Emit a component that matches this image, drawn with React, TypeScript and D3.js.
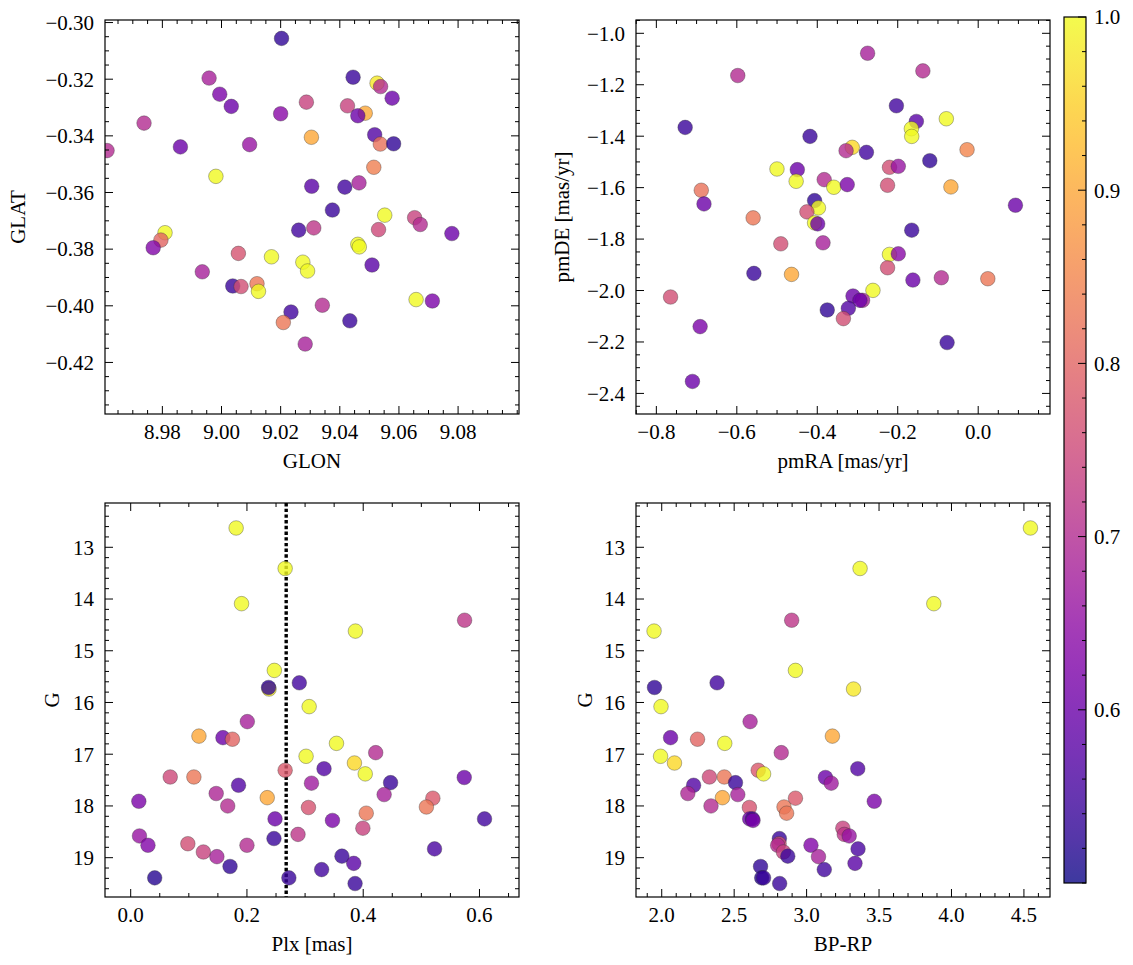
import React from "react";
import * as d3 from "d3";

const W = 1133;
const H = 965;

// ---------- Data ----------
// Sky positions
const glon = [9.0203, 8.9958, 9.0445, 9.0526, 9.0538, 8.9994, 9.0577, 9.0033, 9.0287, 9.0426, 9.0486, 9.0461, 8.9738, 9.02, 9.0304, 9.0518, 9.0537, 9.0582, 8.9861, 9.0095, 8.9613, 8.9981, 9.0515, 9.0305, 9.0417, 9.0465, 9.0375, 9.0552, 9.0653, 9.0672, 9.0261, 9.0312, 9.0531, 9.0779, 8.9809, 8.9795, 8.9769, 9.0461, 9.0466, 9.0057, 9.0169, 9.0275, 9.0291, 8.9935, 9.0509, 9.0038, 9.0066, 9.012, 9.0125, 9.0235, 9.0341, 9.0209, 9.0434, 9.0283, 9.0658, 9.0713];
const glat = [-0.3056, -0.3196, -0.3193, -0.3214, -0.3226, -0.3253, -0.3267, -0.3296, -0.3281, -0.3294, -0.332, -0.3329, -0.3355, -0.3322, -0.3405, -0.3396, -0.3429, -0.3428, -0.3439, -0.3431, -0.3452, -0.3543, -0.3511, -0.3578, -0.3581, -0.3566, -0.3662, -0.368, -0.3689, -0.3713, -0.3733, -0.3725, -0.3731, -0.3745, -0.3742, -0.3768, -0.3795, -0.3783, -0.3792, -0.3815, -0.3827, -0.3846, -0.3877, -0.388, -0.3856, -0.393, -0.3932, -0.3922, -0.3949, -0.4022, -0.3998, -0.4059, -0.4053, -0.4135, -0.3978, -0.3983];
const probSky = [0.53, 0.68, 0.54, 0.98, 0.7, 0.62, 0.6, 0.6, 0.74, 0.74, 0.9, 0.6, 0.7, 0.64, 0.9, 0.57, 0.82, 0.53, 0.6, 0.66, 0.7, 1.0, 0.84, 0.58, 0.55, 0.68, 0.54, 1.0, 0.74, 0.7, 0.55, 0.72, 0.75, 0.6, 1.0, 0.8, 0.63, 1.0, 1.0, 0.77, 1.0, 1.0, 1.0, 0.68, 0.58, 0.54, 0.76, 0.83, 1.0, 0.55, 0.7, 0.83, 0.54, 0.68, 1.0, 0.62];

// Proper motions
const pmra = [-0.2749, -0.5976, -0.1375, -0.2033, -0.0792, -0.1537, -0.1661, -0.1652, -0.7284, -0.4181, -0.3131, -0.3284, -0.2778, -0.0277, -0.1203, -0.2205, -0.1986, -0.5002, -0.4496, -0.4525, -0.3828, -0.3589, -0.3255, -0.2253, -0.0678, -0.6883, -0.6816, -0.4067, -0.3971, 0.0926, -0.5594, -0.4258, -0.4067, -0.399, -0.1652, -0.4907, -0.3857, -0.2205, -0.1986, -0.2253, -0.5575, -0.464, -0.1623, -0.0916, 0.0239, -0.7647, -0.2616, -0.3112, -0.2874, -0.294, -0.3227, -0.3752, -0.3351, -0.6912, -0.0773, -0.7103];
const pmde = [-1.0776, -1.1642, -1.1461, -1.2818, -1.3322, -1.3426, -1.371, -1.4008, -1.3659, -1.4008, -1.4434, -1.4564, -1.4628, -1.4525, -1.4952, -1.521, -1.5171, -1.5275, -1.5301, -1.5753, -1.5688, -1.5985, -1.5882, -1.5908, -1.5972, -1.6102, -1.6632, -1.6503, -1.6787, -1.6684, -1.7175, -1.6942, -1.7369, -1.7408, -1.7654, -1.8184, -1.8145, -1.8597, -1.8572, -1.9114, -1.9334, -1.9373, -1.9593, -1.9502, -1.9541, -2.0252, -1.9994, -2.0213, -2.0381, -2.0381, -2.0691, -2.0756, -2.1092, -2.1403, -2.2023, -2.3535];
const probPm = [0.68, 0.7, 0.7, 0.55, 1.0, 0.58, 1.0, 1.0, 0.54, 0.54, 0.96, 0.7, 0.55, 0.85, 0.53, 0.76, 0.66, 1.0, 0.6, 1.0, 0.7, 1.0, 0.62, 0.76, 0.9, 0.82, 0.6, 0.53, 1.0, 0.6, 0.83, 0.76, 1.0, 0.6, 0.54, 0.76, 0.68, 1.0, 0.64, 0.76, 0.54, 0.9, 0.6, 0.7, 0.83, 0.76, 1.0, 0.6, 0.68, 0.6, 0.57, 0.53, 0.76, 0.62, 0.54, 0.6];

// Photometry / parallax (same stars in both lower panels)
const gmag = [12.627, 13.41, 14.09, 14.41, 14.62, 15.38, 15.62, 15.74, 15.71, 16.08, 16.37, 16.65, 16.68, 16.71, 16.79, 16.97, 17.04, 17.17, 17.31, 17.28, 17.38, 17.44, 17.44, 17.45, 17.56, 17.55, 17.6, 17.76, 17.78, 17.84, 17.85, 17.91, 18.0, 18.03, 18.02, 18.14, 18.25, 18.25, 18.28, 18.43, 18.55, 18.58, 18.63, 18.73, 18.76, 18.76, 18.83, 18.89, 18.98, 18.97, 19.11, 19.17, 19.23, 19.39, 19.39, 19.5];
const plx = [0.1814, 0.2657, 0.1907, 0.5744, 0.3866, 0.2471, 0.2901, 0.238, 0.2372, 0.307, 0.2006, 0.1174, 0.1587, 0.175, 0.354, 0.4215, 0.3017, 0.3849, 0.2657, 0.3326, 0.4035, 0.068, 0.1087, 0.5738, 0.311, 0.4471, 0.1855, 0.1471, 0.436, 0.2349, 0.5198, 0.014, 0.1669, 0.3058, 0.5087, 0.4052, 0.2483, 0.6087, 0.3471, 0.3994, 0.2878, 0.0151, 0.2465, 0.0983, 0.0297, 0.2, 0.5227, 0.125, 0.1483, 0.3634, 0.3837, 0.1709, 0.3285, 0.0413, 0.2721, 0.386];
const bprp = [4.545, 3.369, 3.878, 2.897, 1.947, 2.923, 2.382, 3.324, 1.95, 1.995, 2.61, 3.178, 2.061, 2.247, 2.435, 2.825, 1.992, 2.088, 2.666, 3.353, 2.703, 2.329, 2.432, 3.13, 3.17, 2.509, 2.22, 2.18, 2.525, 2.419, 2.923, 3.467, 2.34, 2.605, 2.844, 2.862, 2.607, 2.626, 2.63, 3.25, 3.26, 3.294, 2.812, 2.81, 3.03, 2.8, 3.355, 2.84, 3.082, 2.87, 3.334, 2.682, 3.122, 2.69, 2.703, 2.814];
const probPhot = [1.0, 1.0, 1.0, 0.72, 1.0, 1.0, 0.55, 0.98, 0.53, 1.0, 0.68, 0.9, 0.6, 0.8, 1.0, 0.7, 1.0, 0.96, 0.78, 0.57, 1.0, 0.75, 0.83, 0.6, 0.67, 0.54, 0.57, 0.69, 0.68, 0.9, 0.78, 0.62, 0.7, 0.77, 0.83, 0.83, 0.6, 0.55, 0.62, 0.74, 0.72, 0.66, 0.54, 0.76, 0.63, 0.7, 0.56, 0.74, 0.68, 0.54, 0.58, 0.53, 0.55, 0.52, 0.54, 0.54];

const plxCut = 0.2675;

// Axis limits and tick labels
const glonLim = [8.9606, 9.1006];
const glatLim = [-0.4382, -0.2991];
const glonTicks = [8.98, 9.0, 9.02, 9.04, 9.06, 9.08];
const glatTicks = [-0.42, -0.4, -0.38, -0.36, -0.34, -0.32, -0.3];
const pmraLim = [-0.8506, 0.1785];
const pmdeLim = [-2.48, -0.9483];
const pmraTicks = [-0.8, -0.6, -0.4, -0.2, 0.0];
const pmdeTicks = [-2.4, -2.2, -2.0, -1.8, -1.6, -1.4, -1.2, -1.0];
const plxLim = [-0.0442, 0.668];
const plxTicks = [0.0, 0.2, 0.4, 0.6];
const gLim = [12.144, 19.76];
const gTicks = [13, 14, 15, 16, 17, 18, 19];
const bprpLim = [1.8224, 4.68];
const bprpTicks = [2.0, 2.5, 3.0, 3.5, 4.0, 4.5];
const probLim = [0.5, 1.0];
const probTicks = [0.6, 0.7, 0.8, 0.9, 1.0];

// ---------- Styling ----------
const FONT = "Liberation Serif";
const FS = 21;
const MAJ = 8;
const MIN = 4;
const R = 7.3;
const ALPHA = 0.8;

const color = d3.scaleSequential(d3.interpolatePlasma).domain(probLim as [number, number]);
const minus = (s: string) => s.replace(/-/g, "\u2212\u2009");

type AxProps = {
  id: string;
  box: [number, number, number, number];
  xLim: number[];
  yLim: number[];
  invertY?: boolean;
  xTicks: number[];
  yTicks: number[];
  xMinorStep: number;
  yMinorStep: number;
  xFmt: string;
  yFmt: string;
  xLabel: string;
  yLabel: string;
  yLabelX: number;
  xs: number[];
  ys: number[];
  cs: number[];
  vline?: number;
};

function minorTicks(lim: number[], step: number, majors: number[]) {
  const lo = Math.min(lim[0], lim[1]);
  const hi = Math.max(lim[0], lim[1]);
  const start = Math.ceil(lo / step - 1e-9) * step;
  const out: number[] = [];
  for (let v = start; v <= hi + 1e-9; v += step) {
    const vv = Math.round(v / step) * step;
    if (!majors.some((m) => Math.abs(m - vv) < step * 0.01)) out.push(vv);
  }
  return out;
}

function T(props: any) {
  return <text fontFamily={FONT} fontSize={FS} fill="#000" {...props} />;
}

function Axes(p: AxProps) {
  const [x0, y0, x1, y1] = p.box;
  const x = d3.scaleLinear().domain(p.xLim).range([x0, x1]);
  const y = d3.scaleLinear().domain(p.yLim).range(p.invertY ? [y0, y1] : [y1, y0]);
  const xMin = minorTicks(p.xLim, p.xMinorStep, p.xTicks);
  const yMin = minorTicks(p.yLim, p.yMinorStep, p.yTicks);
  const xf = d3.format(p.xFmt);
  const yf = d3.format(p.yFmt);
  const cx = (x0 + x1) / 2;
  const cy = (y0 + y1) / 2;
  return (
    <g>
      <defs>
        <clipPath id={p.id}>
          <rect x={x0} y={y0} width={x1 - x0} height={y1 - y0} />
        </clipPath>
      </defs>
      <g clipPath={`url(#${p.id})`}>
        {p.vline !== undefined && (
          <line
            x1={x(p.vline)}
            x2={x(p.vline)}
            y1={y0}
            y2={y1}
            stroke="#000"
            strokeWidth={3.4}
            strokeDasharray="3.4 2.3"
          />
        )}
        {p.xs.map((v, i) => (
          <circle
            key={i}
            cx={x(v)}
            cy={y(p.ys[i])}
            r={R}
            fill={color(p.cs[i])}
            fillOpacity={ALPHA}
            stroke="#333"
            strokeOpacity={ALPHA}
            strokeWidth={0.45}
          />
        ))}
      </g>
      <g stroke="#000" strokeWidth={1}>
        {p.xTicks.map((t) => (
          <g key={"xM" + t}>
            <line x1={x(t)} x2={x(t)} y1={y1} y2={y1 - MAJ} />
            <line x1={x(t)} x2={x(t)} y1={y0} y2={y0 + MAJ} />
          </g>
        ))}
        {xMin.map((t) => (
          <g key={"xm" + t}>
            <line x1={x(t)} x2={x(t)} y1={y1} y2={y1 - MIN} />
            <line x1={x(t)} x2={x(t)} y1={y0} y2={y0 + MIN} />
          </g>
        ))}
        {p.yTicks.map((t) => (
          <g key={"yM" + t}>
            <line x1={x0} x2={x0 + MAJ} y1={y(t)} y2={y(t)} />
            <line x1={x1} x2={x1 - MAJ} y1={y(t)} y2={y(t)} />
          </g>
        ))}
        {yMin.map((t) => (
          <g key={"ym" + t}>
            <line x1={x0} x2={x0 + MIN} y1={y(t)} y2={y(t)} />
            <line x1={x1} x2={x1 - MIN} y1={y(t)} y2={y(t)} />
          </g>
        ))}
      </g>
      <rect x={x0} y={y0} width={x1 - x0} height={y1 - y0} fill="none" stroke="#000" strokeWidth={1.2} />
      {p.xTicks.map((t) => (
        <T key={"xl" + t} x={x(t)} y={y1 + 25} textAnchor="middle">
          {minus(xf(t))}
        </T>
      ))}
      {p.yTicks.map((t) => (
        <T key={"yl" + t} x={x0 - 11} y={y(t)} dy="0.35em" textAnchor="end">
          {minus(yf(t))}
        </T>
      ))}
      <T x={cx} y={y1 + 54} textAnchor="middle">
        {p.xLabel}
      </T>
      <T transform={`translate(${p.yLabelX},${cy}) rotate(-90)`} dy="0.35em" textAnchor="middle">
        {p.yLabel}
      </T>
    </g>
  );
}

function Colorbar() {
  const bx0 = 1064;
  const bx1 = 1086;
  const by0 = 17;
  const by1 = 883;
  const y = d3.scaleLinear().domain(probLim).range([by1, by0]);
  const stops = d3.range(0, 1.0001, 0.05);
  const minors = minorTicks(probLim, 0.02, probTicks);
  return (
    <g>
      <defs>
        <linearGradient id="cbgrad" x1="0" y1="1" x2="0" y2="0">
          {stops.map((t) => (
            <stop key={t} offset={t} stopColor={d3.interpolatePlasma(t)} stopOpacity={ALPHA} />
          ))}
        </linearGradient>
      </defs>
      <rect x={bx0} y={by0} width={bx1 - bx0} height={by1 - by0} fill="url(#cbgrad)" />
      <g stroke="#000" strokeWidth={1}>
        {probTicks.map((t) => (
          <line key={"c" + t} x1={bx1} x2={bx1 - MAJ} y1={y(t)} y2={y(t)} />
        ))}
        {minors.map((t) => (
          <line key={"cm" + t} x1={bx1} x2={bx1 - MIN} y1={y(t)} y2={y(t)} />
        ))}
      </g>
      <rect x={bx0} y={by0} width={bx1 - bx0} height={by1 - by0} fill="none" stroke="#000" strokeWidth={1.2} />
      {probTicks.map((t) => (
        <T key={"cl" + t} x={bx1 + 8} y={y(t)} dy="0.35em">
          {d3.format(".1f")(t)}
        </T>
      ))}
    </g>
  );
}

export default function App() {
  const L = [105, 519];
  const Rg = [636, 1050];
  const Tp = [20, 414];
  const B = [503, 897];
  return (
    <svg
      width={W}
      height={H}
      viewBox={`0 0 ${W} ${H}`}
      style={{ position: "absolute", left: 0, top: 0, background: "#fff" }}
    >
      <rect x={0} y={0} width={W} height={H} fill="#fff" />
      <Axes
        id="c1"
        box={[L[0], Tp[0], L[1], Tp[1]]}
        xLim={glonLim}
        yLim={glatLim}
        xTicks={glonTicks}
        yTicks={glatTicks}
        xMinorStep={0.005}
        yMinorStep={0.005}
        xFmt=".2f"
        yFmt=".2f"
        xLabel="GLON"
        yLabel="GLAT"
        yLabelX={18}
        xs={glon}
        ys={glat}
        cs={probSky}
      />
      <Axes
        id="c2"
        box={[Rg[0], Tp[0], Rg[1], Tp[1]]}
        xLim={pmraLim}
        yLim={pmdeLim}
        xTicks={pmraTicks}
        yTicks={pmdeTicks}
        xMinorStep={0.05}
        yMinorStep={0.05}
        xFmt=".1f"
        yFmt=".1f"
        xLabel="pmRA [mas/yr]"
        yLabel="pmDE [mas/yr]"
        yLabelX={562}
        xs={pmra}
        ys={pmde}
        cs={probPm}
      />
      <Axes
        id="c3"
        box={[L[0], B[0], L[1], B[1]]}
        xLim={plxLim}
        yLim={gLim}
        invertY
        xTicks={plxTicks}
        yTicks={gTicks}
        xMinorStep={0.05}
        yMinorStep={0.2}
        xFmt=".1f"
        yFmt="d"
        xLabel="Plx [mas]"
        yLabel="G"
        yLabelX={52}
        xs={plx}
        ys={gmag}
        cs={probPhot}
        vline={plxCut}
      />
      <Axes
        id="c4"
        box={[Rg[0], B[0], Rg[1], B[1]]}
        xLim={bprpLim}
        yLim={gLim}
        invertY
        xTicks={bprpTicks}
        yTicks={gTicks}
        xMinorStep={0.1}
        yMinorStep={0.2}
        xFmt=".1f"
        yFmt="d"
        xLabel="BP-RP"
        yLabel="G"
        yLabelX={585}
        xs={bprp}
        ys={gmag}
        cs={probPhot}
      />
      <Colorbar />
    </svg>
  );
}
